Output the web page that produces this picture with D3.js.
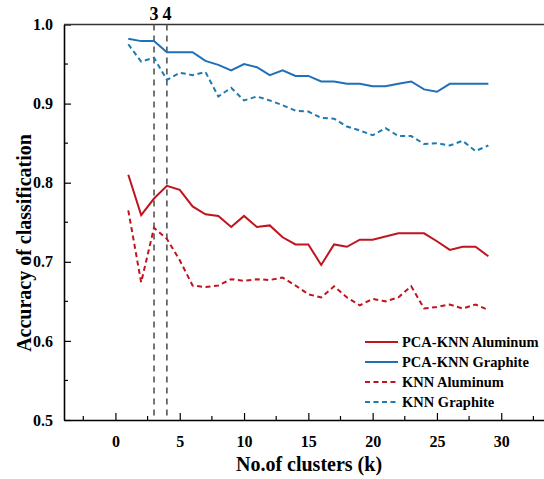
<!DOCTYPE html>
<html>
<head>
<meta charset="utf-8">
<script src="https://cdn.jsdelivr.net/npm/d3@7"></script>
<style>
  body { margin: 0; background: #fff; }
</style>
</head>
<body>
<svg id="chart" width="544" height="479"></svg>
<script>
// cluster counts k = 1..29
var ks = [1, 2, 3, 4, 5, 6, 7, 8, 9, 10, 11, 12, 13, 14, 15, 16, 17, 18, 19, 20,
          21, 22, 23, 24, 25, 26, 27, 28, 29];

var pcaAluminum = [0.810, 0.759, 0.780, 0.796, 0.791, 0.770, 0.760, 0.758, 0.744, 0.758,
                   0.744, 0.746, 0.731, 0.722, 0.722, 0.696, 0.722, 0.719, 0.728, 0.728,
                   0.732, 0.736, 0.736, 0.736, 0.726, 0.715, 0.719, 0.719, 0.707];
var pcaGraphite = [0.982, 0.979, 0.979, 0.965, 0.965, 0.965, 0.954, 0.949, 0.942, 0.950,
                   0.946, 0.936, 0.942, 0.935, 0.935, 0.928, 0.928, 0.925, 0.925, 0.922,
                   0.922, 0.925, 0.928, 0.918, 0.915, 0.925, 0.925, 0.925, 0.925];
var knnAluminum = [0.765, 0.674, 0.743, 0.729, 0.702, 0.670, 0.668, 0.670, 0.678, 0.676,
                   0.678, 0.677, 0.680, 0.670, 0.659, 0.655, 0.669, 0.655, 0.645, 0.653,
                   0.650, 0.655, 0.669, 0.641, 0.643, 0.646, 0.641, 0.646, 0.639];
var knnGraphite = [0.975, 0.953, 0.958, 0.930, 0.939, 0.936, 0.940, 0.909, 0.920, 0.904,
                   0.909, 0.904, 0.898, 0.891, 0.890, 0.882, 0.881, 0.871, 0.866, 0.860,
                   0.869, 0.859, 0.859, 0.849, 0.850, 0.847, 0.853, 0.840, 0.847];

var markedK = [3, 4];
var xTicks = [0, 5, 10, 15, 20, 25, 30];
var yTicks = [0.5, 0.6, 0.7, 0.8, 0.9, 1.0];

var series = [
  {name: "PCA-KNN Aluminum", values: pcaAluminum, color: "#c0141e", dash: null},
  {name: "PCA-KNN Graphite", values: pcaGraphite, color: "#1f70b8", dash: null},
  {name: "KNN Aluminum", values: knnAluminum, color: "#c0141e", dash: "5,3.5"},
  {name: "KNN Graphite", values: knnGraphite, color: "#1f7ab2", dash: "5,3.5"}
];

var serif = "'Liberation Serif', 'DejaVu Serif', 'Times New Roman', serif";

var svg = d3.select("#chart");
var plotLeft = 64, plotTop = 24.5, plotBottom = 420;

// the frame runs past the right edge of the picture, like the original crop
var x = d3.scaleLinear().domain([-4, 36]).range([plotLeft, plotLeft + 40 * 12.86]);
var y = d3.scaleLinear().domain([0.5, 1.0]).range([plotBottom, plotTop]);

// axes with inward ticks
var xMinor = d3.range(-2.5, 36, 2.5).filter(function(d) { return d % 5 !== 0; });
var yMinor = [0.55, 0.65, 0.75, 0.85, 0.95];

var gx = svg.append("g").attr("transform", "translate(0," + plotBottom + ")");
gx.call(d3.axisBottom(x).tickValues(xTicks).tickSizeInner(-7).tickSizeOuter(0)
  .tickPadding(16).tickFormat(d3.format("d")));
gx.append("g").selectAll("line").data(xMinor).enter().append("line")
  .attr("x1", function(d) { return x(d); }).attr("x2", function(d) { return x(d); })
  .attr("y1", 0).attr("y2", -4).attr("stroke", "#000").attr("stroke-width", 1.2);

var gy = svg.append("g").attr("transform", "translate(" + plotLeft + ",0)");
gy.call(d3.axisLeft(y).tickValues(yTicks).tickSizeInner(-7).tickSizeOuter(0)
  .tickPadding(11).tickFormat(d3.format(".1f")));
gy.append("g").selectAll("line").data(yMinor).enter().append("line")
  .attr("y1", function(d) { return y(d); }).attr("y2", function(d) { return y(d); })
  .attr("x1", 0).attr("x2", 4).attr("stroke", "#000").attr("stroke-width", 1.2);

svg.selectAll(".domain").attr("stroke", "#000").attr("stroke-width", 1.6);
svg.selectAll(".tick line").attr("stroke", "#000").attr("stroke-width", 1.2);
svg.selectAll(".tick text").attr("fill", "#000").style("font-size", "16px");

// top frame line
svg.append("line")
  .attr("x1", plotLeft).attr("x2", 544).attr("y1", plotTop).attr("y2", plotTop)
  .attr("stroke", "#333").attr("stroke-width", 1.6);

// marker lines at k = 3 and 4
svg.selectAll(".mark").data(markedK).enter().append("line")
  .attr("class", "mark")
  .attr("x1", function(d) { return x(d); }).attr("x2", function(d) { return x(d); })
  .attr("y1", plotTop).attr("y2", plotBottom)
  .attr("stroke", "#555").attr("stroke-width", 1.6).attr("stroke-dasharray", "6,5");
svg.selectAll(".markLabel").data(markedK).enter().append("text")
  .attr("class", "markLabel")
  .attr("x", function(d) { return x(d); }).attr("y", 20)
  .attr("text-anchor", "middle").style("font-size", "18px")
  .text(function(d) { return d; });

// series lines
var line = d3.line()
  .x(function(d, i) { return x(ks[i]); })
  .y(function(d) { return y(d); });

svg.selectAll(".series").data(series).enter().append("path")
  .attr("class", "series")
  .attr("fill", "none")
  .attr("stroke", function(d) { return d.color; })
  .attr("stroke-width", 2)
  .attr("stroke-dasharray", function(d) { return d.dash; })
  .attr("d", function(d) { return line(d.values); });

// legend
var legend = svg.append("g").attr("transform", "translate(365,342)");
var items = legend.selectAll("g").data(series).enter().append("g")
  .attr("transform", function(d, i) { return "translate(0," + (i * 20) + ")"; });
items.append("line")
  .attr("x1", 0).attr("x2", 33).attr("y1", 0).attr("y2", 0)
  .attr("stroke", function(d) { return d.color; })
  .attr("stroke-width", 2)
  .attr("stroke-dasharray", function(d) { return d.dash; });
items.append("text")
  .attr("x", 37).attr("y", 5)
  .style("font-size", "14.5px")
  .text(function(d) { return d.name; });

// axis titles
svg.append("text")
  .attr("x", 309).attr("y", 471)
  .attr("text-anchor", "middle").style("font-size", "20px")
  .text("No.of clusters (k)");
svg.append("text")
  .attr("transform", "translate(31,243) rotate(-90)")
  .attr("text-anchor", "middle").style("font-size", "20px")
  .text("Accuracy of classification");

svg.selectAll("text")
  .style("font-family", serif)
  .style("font-weight", "bold");
</script>
</body>
</html>
